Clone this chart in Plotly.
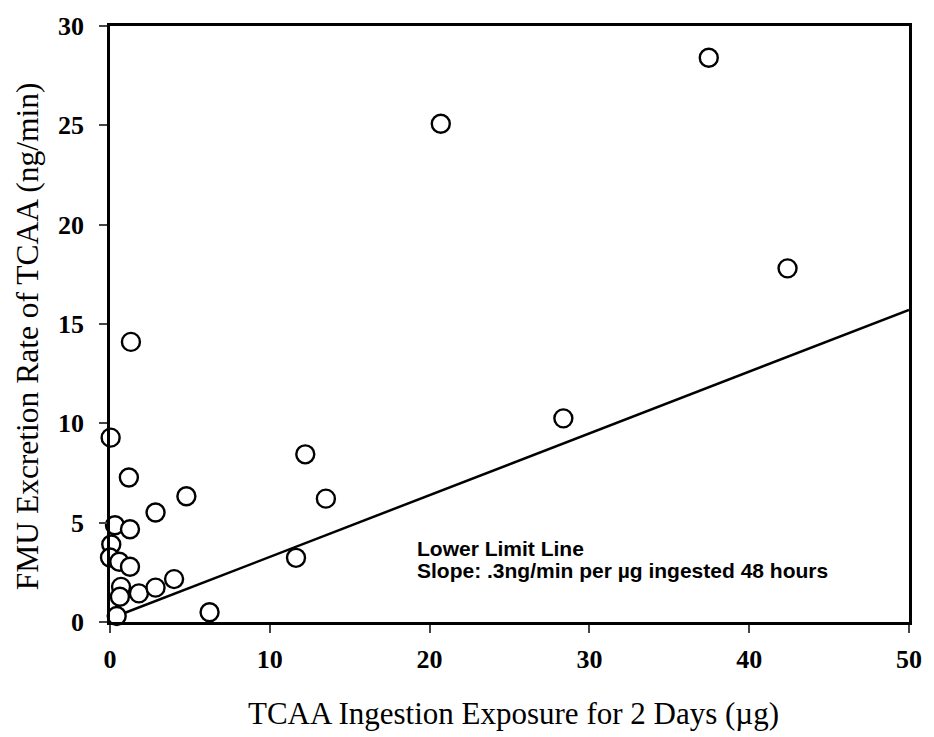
import plotly.graph_objects as go

exposure_ug = [1.31, 0.04, 1.18, 4.78, 2.85, 0.31, 1.25, 0.08, 0.0, 0.58, 1.25, 0.69, 0.62,
               1.81, 2.85, 4.01, 0.42, 6.23, 11.64, 12.22, 13.51, 20.7, 28.37, 37.47, 42.4]
excretion_ng_min = [14.1, 9.28, 7.27, 6.33, 5.51, 4.87, 4.67, 3.9, 3.25, 3.03, 2.78, 1.77, 1.27,
                    1.44, 1.73, 2.16, 0.3, 0.49, 3.23, 8.44, 6.21, 25.08, 10.25, 28.4, 17.8]
line_x = [0.42, 50]
line_y = [0.3, 15.71]
x_ticks = [0, 10, 20, 30, 40, 50]
y_ticks = [0, 5, 10, 15, 20, 25, 30]

fig = go.Figure()
fig.add_trace(go.Scatter(x=line_x, y=line_y, mode="lines",
                         line=dict(color="black", width=2.5), showlegend=False))
fig.add_trace(go.Scatter(x=exposure_ug, y=excretion_ng_min, mode="markers",
                         marker=dict(size=18, color="white", symbol="circle",
                                     line=dict(color="black", width=2.4)),
                         showlegend=False, cliponaxis=False))

ann_font = dict(family="Liberation Sans", size=21, color="black", weight="bold")
fig.add_annotation(x=19.08, y=3.71, xref="x", yref="y", xanchor="left", yanchor="middle",
                   text="Lower Limit Line", showarrow=False, font=ann_font)
fig.add_annotation(x=19.08, y=2.61, xref="x", yref="y", xanchor="left", yanchor="middle",
                   text="Slope: .3ng/min per µg ingested 48 hours", showarrow=False, font=ann_font)

fig.add_annotation(x=0.505, y=-0.1538, xref="paper", yref="paper", xanchor="center",
                   yanchor="middle", showarrow=False,
                   text="TCAA Ingestion Exposure for 2 Days (µg)",
                   font=dict(family="Liberation Serif", size=31, color="black"))
fig.add_annotation(x=-0.1022, y=0.48, xref="paper", yref="paper", xanchor="center",
                   yanchor="middle", showarrow=False, textangle=-90,
                   text="FMU Excretion Rate of TCAA (ng/min)",
                   font=dict(family="Liberation Serif", size=31.5, color="black"))

fig.update_layout(
    width=934, height=737,
    margin=dict(l=110, r=22, t=24, b=115),
    paper_bgcolor="white", plot_bgcolor="white",
    xaxis=dict(range=[0, 50], tickvals=x_ticks, ticks="outside", ticklen=8, tickwidth=2,
               showline=True, linewidth=2.5, linecolor="black", mirror=True,
               showgrid=False, zeroline=False, ticklabelstandoff=4,
               tickfont=dict(family="Liberation Serif", size=26, color="black", weight="bold")),
    yaxis=dict(range=[0, 30], tickvals=y_ticks, ticks="outside", ticklen=8, tickwidth=2,
               showline=True, linewidth=2.5, linecolor="black", mirror=True,
               showgrid=False, zeroline=False, ticklabelstandoff=10,
               tickfont=dict(family="Liberation Serif", size=26, color="black", weight="bold")),
)

fig.write_html("out.html")
